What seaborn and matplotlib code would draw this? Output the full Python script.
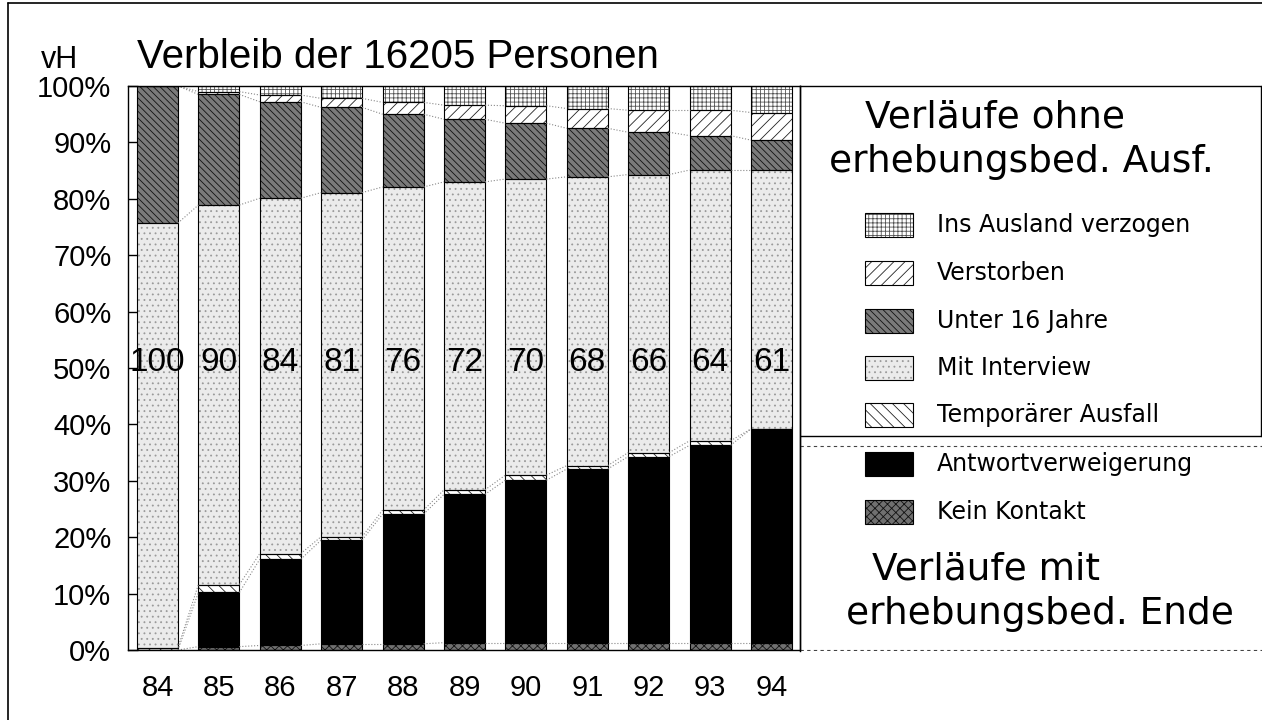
import matplotlib
matplotlib.use("Agg")
import matplotlib.pyplot as plt
import seaborn as sns
from matplotlib.patches import Rectangle
from matplotlib.lines import Line2D

# Daten (vH der 16205 Personen, von unten nach oben gestapelt)
years = ["84", "85", "86", "87", "88", "89", "90", "91", "92", "93", "94"]
kein_kontakt = [0.0, 0.6, 0.8, 1.1, 1.1, 1.3, 1.3, 1.3, 1.3, 1.3, 1.3]
antwortverweigerung = [0.0, 9.6, 15.3, 18.4, 23.0, 26.3, 28.8, 30.8, 33.0, 35.0, 37.9]
temporaer_ausfall = [0.4, 1.4, 1.0, 0.6, 0.7, 0.8, 0.9, 0.6, 0.7, 0.8, 0.0]
mit_interview = [75.3, 67.3, 63.0, 61.0, 57.3, 54.6, 52.5, 51.2, 49.3, 48.0, 45.9]
unter_16 = [24.3, 19.6, 17.1, 15.1, 12.9, 11.1, 9.9, 8.6, 7.5, 6.1, 5.3]
verstorben = [0.0, 0.5, 1.2, 1.6, 2.1, 2.5, 3.1, 3.5, 3.9, 4.5, 4.9]
ausland = [0.0, 1.0, 1.6, 2.2, 2.9, 3.4, 3.5, 4.0, 4.3, 4.3, 4.7]
index_labels = [100, 90, 84, 81, 76, 72, 70, 68, 66, 64, 61]

# name, werte, flaeche, schraffur, schraffurfarbe
layers = [
    ("Kein Kontakt", kein_kontakt, "#707070", "xxxx", "#111111"),
    ("Antwortverweigerung", antwortverweigerung, "black", None, "black"),
    ("Temporärer Ausfall", temporaer_ausfall, "white", "\\\\\\", "#222222"),
    ("Mit Interview", mit_interview, "#ebebeb", "...", "#9a9a9a"),
    ("Unter 16 Jahre", unter_16, "#7a7a7a", "\\\\\\\\\\", "#111111"),
    ("Verstorben", verstorben, "white", "///", "#222222"),
    ("Ins Ausland verzogen", ausland, "white", "++++", "#555555"),
]

sns.set_style("white")
plt.rcParams["font.family"] = ["Liberation Sans", "DejaVu Sans"]
plt.rcParams["hatch.linewidth"] = 0.6
plt.rcParams["text.color"] = "black"
plt.rcParams["xtick.color"] = "black"
plt.rcParams["ytick.color"] = "black"

W, H = 1262, 720
fig = plt.figure(figsize=(W / 100, H / 100), dpi=100)
ax = fig.add_axes([128 / W, (H - 650) / H, (800 - 128) / W, (650 - 86) / H])

bar_w = 0.667
bottom = [0.0] * len(years)
levels = []
for name, vals, face, hatch, hcol in layers:
    sns.barplot(x=years, y=vals, bottom=bottom, color=face, saturation=1,
                hatch=hatch, edgecolor=hcol, linewidth=0, width=bar_w,
                errorbar=None, ax=ax)
    bottom = [b + v for b, v in zip(bottom, vals)]
    levels.append(bottom)

# Umrisse der Segmente
for p in list(ax.patches):
    ax.add_patch(Rectangle(p.get_xy(), p.get_width(), p.get_height(),
                           fill=False, edgecolor="black", linewidth=0.8))

# gepunktete Verbindungslinien zwischen den Segmentgrenzen
for lev in levels[:-1]:
    for i in range(len(years) - 1):
        ax.plot([i + bar_w / 2, i + 1 - bar_w / 2], [lev[i], lev[i + 1]],
                color="#888888", linestyle=":", linewidth=0.8)

for i, v in enumerate(index_labels):
    ax.text(i, 51, str(v), ha="center", va="center", fontsize=24, color="black")

ax.set_xlim(-0.48, len(years) - 1 + 0.464)
ax.set_ylim(0, 100)
ax.set_yticks(range(0, 101, 10))
ax.set_yticklabels([f"{t}%" for t in range(0, 101, 10)], fontsize=21)
ax.tick_params(axis="y", direction="in", length=7, width=1, pad=12, left=True,
               colors="black")
ax.tick_params(axis="x", length=0, pad=17, labelsize=21, colors="black")
ax.set_xlabel("")
ax.set_ylabel("")
for s in ax.spines.values():
    s.set_color("black")
    s.set_linewidth(1.0)

# Titel
fig.text(41 / W, 1 - 68 / H, "vH", fontsize=22, va="baseline", color="black")
fig.text(137 / W, 1 - 68 / H, "Verbleib der 16205 Personen", fontsize=29,
         va="baseline", color="black")

# Legendenfeld rechts (Pixelkoordinaten)
lax = fig.add_axes([800 / W, (H - 651) / H, 462 / W, (651 - 86) / H])
lax.set_xlim(800, 1262)
lax.set_ylim(651, 86)
lax.set_xticks([])
lax.set_yticks([])
lax.patch.set_alpha(0)
for k in ["right", "bottom"]:
    lax.spines[k].set_visible(False)
for k in ["left", "top"]:
    lax.spines[k].set_color("black")
    lax.spines[k].set_linewidth(1.0)
lax.plot([1261, 1261], [86, 436], color="black", linewidth=1.0, clip_on=False)
lax.plot([800, 1262], [436, 436], color="black", linewidth=1.0)
lax.plot([800, 1262], [446, 446], color="#444444", linewidth=0.8, linestyle=(0, (3, 3)))
lax.plot([800, 1262], [650, 650], color="#444444", linewidth=0.8, linestyle=(0, (3, 3)))

lfont = ["DejaVu Sans"]
lax.text(995, 118, "Verläufe ohne", fontsize=27, ha="center", va="center", family=lfont)
lax.text(1021, 162, "erhebungsbed. Ausf.", fontsize=27, ha="center", va="center", family=lfont)
lax.text(986, 569, "Verläufe mit", fontsize=27, ha="center", va="center", family=lfont)
lax.text(1040, 614, "erhebungsbed. Ende", fontsize=27, ha="center", va="center", family=lfont)

item_y = [512, 464, 415, 368, 321, 273, 225]
for (name, vals, face, hatch, hcol), y in zip(layers, item_y):
    lax.add_patch(Rectangle((865, y - 12), 48, 24, facecolor=face, hatch=hatch,
                            edgecolor=hcol, linewidth=0))
    lax.add_patch(Rectangle((865, y - 12), 48, 24, fill=False,
                            edgecolor="black", linewidth=0.8))
    lax.text(937, y, name, fontsize=17, ha="left", va="center", family=lfont)

# aeusserer Rahmen
fig.add_artist(Line2D([8 / W, 8 / W], [0, 1 - 3 / H], color="black", linewidth=1.2))
fig.add_artist(Line2D([8 / W, 1], [1 - 3 / H, 1 - 3 / H], color="black", linewidth=1.2))

fig.savefig("out.png", dpi=100, facecolor="white")
